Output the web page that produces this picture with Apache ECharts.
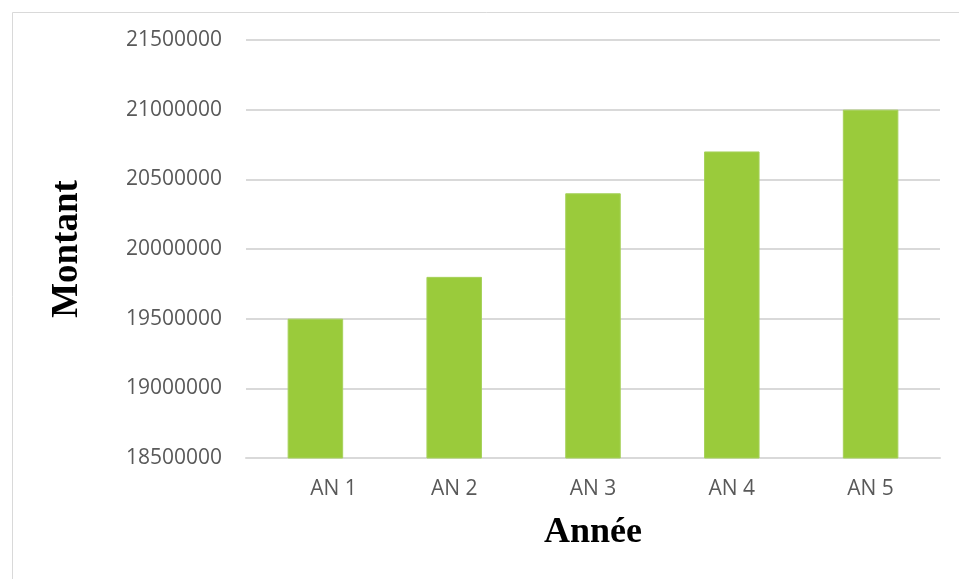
<!DOCTYPE html>
<html>
<head>
<meta charset="utf-8">
<script src="https://cdn.jsdelivr.net/npm/echarts@6/dist/echarts.min.js"></script>
<style>html,body{margin:0;padding:0;background:#fff}#c{width:959px;height:579px}</style>
</head>
<body>
<div id="c"></div>
<script>
const categories = ['AN 1', 'AN 2', 'AN 3', 'AN 4', 'AN 5'];
const montants = [19500000, 19800000, 20400000, 20700000, 21000000];
const yMin = 18500000, yMax = 21500000, yStep = 500000;

const chart = echarts.init(document.getElementById('c'), null, {renderer: 'canvas'});
chart.setOption({
  animation: false,
  backgroundColor: '#ffffff',
  graphic: [{
    type: 'rect', left: 10, top: 10, silent: true,
    shape: {width: 960, height: 580},
    style: {fill: 'none', stroke: '#d9d9d9', lineWidth: 1}
  }],
  grid: {left: 246, right: 19, top: 40, bottom: 121},
  xAxis: {
    type: 'category', data: categories,
    name: 'Année', nameLocation: 'middle', nameGap: 57,
    nameTextStyle: {fontFamily: 'Liberation Serif', fontWeight: 'bold', fontSize: 36, color: '#000'},
    axisLine: {lineStyle: {color: '#d9d9d9', width: 2}},
    axisTick: {show: false},
    axisLabel: {color: '#595959', fontFamily: 'Open Sans', fontSize: 21, margin: 21,
      formatter: (v, i) => i === 0 ? '\u2007\u2007\u2007' + v : v}
  },
  yAxis: {
    type: 'value', min: yMin, max: yMax, interval: yStep,
    name: 'Montant', nameLocation: 'middle', nameGap: 160, nameRotate: 90,
    nameTextStyle: {fontFamily: 'Liberation Serif', fontWeight: 'bold', fontSize: 37, color: '#000'},
    axisLine: {show: false}, axisTick: {show: false},
    splitLine: {lineStyle: {color: '#d9d9d9', width: 2}},
    axisLabel: {color: '#595959', fontFamily: 'Open Sans', fontSize: 21, margin: 24,
      formatter: v => String(v)}
  },
  series: [{
    type: 'bar', data: montants, barWidth: '40%',
    itemStyle: {color: '#9acb3b', borderColor: '#a6d15a', borderWidth: 1}
  }]
});
</script>
</body>
</html>
